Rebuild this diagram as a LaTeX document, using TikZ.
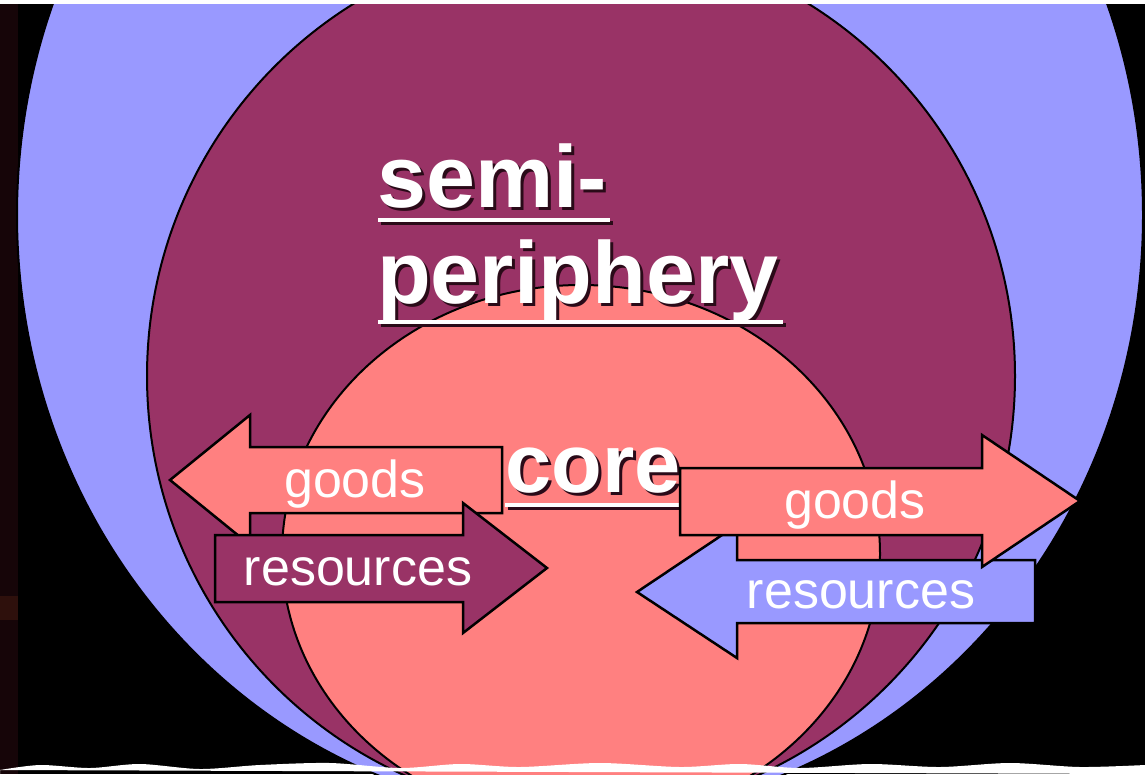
\documentclass[tikz,border=0pt]{standalone}
\usepackage{fontspec}
\setmainfont{Liberation Sans}
\definecolor{lav}{HTML}{9999FF}
\definecolor{maroonc}{HTML}{993366}
\definecolor{salmonc}{HTML}{FF8080}
\definecolor{stripc}{HTML}{160508}
\definecolor{glowc}{HTML}{2E100C}
\definecolor{shadowc}{HTML}{2A0A18}
\newcommand{\shadowed}[1]{\makebox[0pt][l]{\hspace{3pt}\raisebox{-3pt}{\textcolor{shadowc}{#1}}}#1}
\begin{document}
\begin{tikzpicture}[x=1pt,y=-1pt,
  ring/.style={draw=black, line width=2pt},
  blockarrow/.style={draw=black, line width=2.5pt, line join=miter},
  titletext/.style={text=white, font=\fontsize{88}{88}\selectfont\bfseries, inner sep=0pt, anchor=base west},
  uline/.style={draw=white, line width=4pt},
  ulineshadow/.style={draw=shadowc, line width=4pt},
  arrowlabel/.style={text=white, font=\fontsize{52}{52}\selectfont, inner sep=0pt, anchor=base}]
\useasboundingbox (0,0) rectangle (1145,774);
% background and paper edges
\fill[black] (0,0) rectangle (1145,774);
\fill[stripc] (0,0) rectangle (18,774);
\fill[glowc] (0,596) rectangle (18,620);
\begin{scope}
  \clip (0,4) rectangle (1145,774);
  \filldraw[ring, fill=lav] (580,215) ellipse [x radius=563, y radius=600];
  \filldraw[ring, fill=maroonc] (581,376) ellipse [x radius=434, y radius=437];
  \filldraw[ring, fill=salmonc] (581,554) ellipse [x radius=299, y radius=269];
\end{scope}
% titles
\node[titletext] (semi) at (377,207) {\shadowed{semi-}};
\draw[ulineshadow] (381,223) -- (613,223);
\draw[uline] (378,220) -- (610,220);
\node[titletext] (periphery) at (377,303) {\shadowed{periphery}};
\draw[ulineshadow] (381,325) -- (786,325);
\draw[uline] (378,322) -- (783,322);
\node[titletext, font=\fontsize{83}{83}\selectfont\bfseries] (core) at (505,492) {\shadowed{core}};
\draw[ulineshadow] (508,508) -- (683,508);
\draw[uline] (505,505) -- (680,505);
% left goods arrow (pointing left)
\filldraw[blockarrow, fill=salmonc] (170,480) -- (250,415) -- (250,447) -- (502,447)
  -- (502,513) -- (250,513) -- (250,545) -- cycle;
\node[arrowlabel] (lgoods) at (355,497) {goods};
% left resources arrow (pointing right)
\filldraw[blockarrow, fill=maroonc] (215,535) -- (463,535) -- (463,503) -- (547,568)
  -- (463,633) -- (463,602) -- (215,602) -- cycle;
\node[arrowlabel] (lres) at (358,585) {resources};
% right resources arrow (pointing left)
\filldraw[blockarrow, fill=lav] (637,592) -- (737,525) -- (737,560) -- (1035,560)
  -- (1035,623) -- (737,623) -- (737,658) -- cycle;
\node[arrowlabel] (rres) at (861,608) {resources};
% right goods arrow (pointing right)
\filldraw[blockarrow, fill=salmonc] (680,468) -- (982,468) -- (982,435) -- (1080,501)
  -- (982,567) -- (982,535) -- (680,535) -- cycle;
\node[arrowlabel] (rgoods) at (855,518) {goods};
% torn paper edges
\fill[white] (0,0) rectangle (1145,4);
\fill[white] (0,774) -- (0,770) plot[smooth] coordinates {(0,770) (40,765) (90,768) (140,764) (200,769) (260,765) (330,763) (400,768) (460,764) (520,767) (600,763) (680,767) (740,764) (800,768) (870,764) (940,767) (1010,763) (1080,767) (1145,765)} -- (1145,774) -- cycle;
\end{tikzpicture}
\end{document}
